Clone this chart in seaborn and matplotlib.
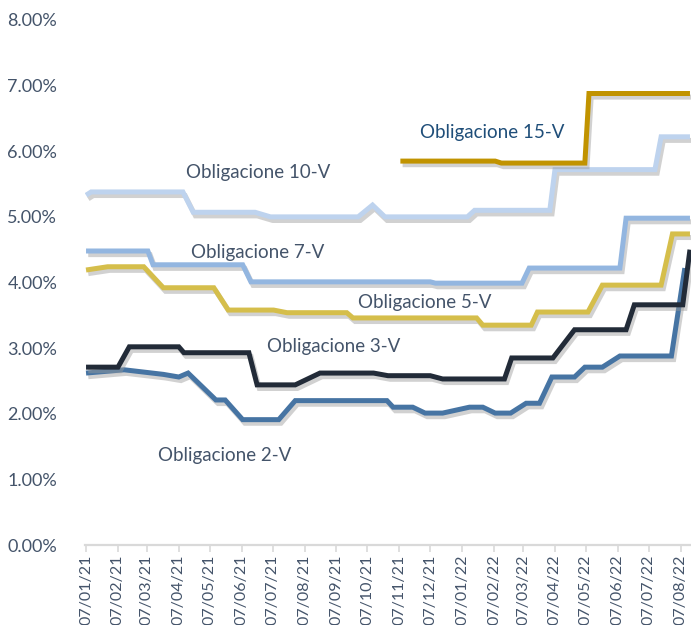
import numpy as np
import pandas as pd
import matplotlib
matplotlib.use("Agg")
import matplotlib.pyplot as plt
import matplotlib.dates as mdates
import matplotlib.patheffects as pe
import seaborn as sns

# ---------------- data ----------------
dates_2v = ['2021-01-07', '2021-02-13', '2021-03-23', '2021-04-07', '2021-04-16', '2021-05-13',
            '2021-05-22', '2021-06-08', '2021-07-13', '2021-07-29', '2021-10-26', '2021-11-01',
            '2021-11-20', '2021-12-02', '2021-12-19', '2022-01-14', '2022-01-27', '2022-02-08',
            '2022-02-23', '2022-03-10', '2022-03-23', '2022-04-04', '2022-04-26', '2022-05-06',
            '2022-05-23', '2022-06-09', '2022-07-29', '2022-08-11']
vals_2v = [2.62, 2.67, 2.60, 2.56, 2.62, 2.21, 2.21, 1.91, 1.91, 2.20, 2.20, 2.10,
           2.10, 2.01, 2.01, 2.10, 2.10, 2.01, 2.01, 2.16, 2.16, 2.56, 2.56, 2.71,
           2.71, 2.88, 2.88, 4.22]

dates_3v = ['2021-01-07', '2021-02-07', '2021-02-18', '2021-04-07', '2021-04-12', '2021-06-14',
            '2021-06-22', '2021-07-29', '2021-08-22', '2021-10-13', '2021-10-27', '2021-12-07',
            '2021-12-19', '2022-02-17', '2022-02-24', '2022-04-05', '2022-04-26', '2022-06-15',
            '2022-06-23', '2022-08-09', '2022-08-16']
vals_3v = [2.71, 2.71, 3.02, 3.02, 2.93, 2.93, 2.44, 2.44, 2.62, 2.62, 2.58, 2.58,
           2.53, 2.53, 2.85, 2.85, 3.28, 3.28, 3.66, 3.66, 4.50]

dates_5v = ['2021-01-07', '2021-01-28', '2021-03-04', '2021-03-23', '2021-05-11', '2021-05-25',
            '2021-07-08', '2021-07-21', '2021-09-17', '2021-09-23', '2022-01-21', '2022-01-27',
            '2022-03-15', '2022-03-21', '2022-05-09', '2022-05-23', '2022-07-19', '2022-07-30',
            '2022-08-16']
vals_5v = [4.19, 4.24, 4.24, 3.92, 3.92, 3.58, 3.58, 3.54, 3.54, 3.46, 3.46, 3.35,
           3.35, 3.55, 3.55, 3.96, 3.96, 4.74, 4.74]

dates_7v = ['2021-01-07', '2021-03-08', '2021-03-13', '2021-06-08', '2021-06-16', '2021-12-07',
            '2021-12-12', '2022-03-06', '2022-03-13', '2022-06-09', '2022-06-15', '2022-08-16']
vals_7v = [4.48, 4.48, 4.27, 4.27, 4.01, 4.01, 3.99, 3.99, 4.22, 4.22, 4.98, 4.98]

dates_10v = ['2021-01-07', '2021-01-12', '2021-04-11', '2021-04-21', '2021-06-20', '2021-07-05',
             '2021-09-28', '2021-10-12', '2021-10-24', '2022-01-12', '2022-01-19', '2022-04-02',
             '2022-04-07', '2022-07-13', '2022-07-19', '2022-08-16']
vals_10v = [5.33, 5.38, 5.38, 5.07, 5.07, 5.00, 5.00, 5.18, 5.00, 5.00, 5.10, 5.10,
            5.72, 5.72, 6.22, 6.22]

dates_15v = ['2021-11-08', '2022-02-08', '2022-02-14', '2022-05-06', '2022-05-10', '2022-08-16']
vals_15v = [5.85, 5.85, 5.82, 5.82, 6.88, 6.88]

series_names = ['Obligacione 2-V', 'Obligacione 3-V', 'Obligacione 5-V',
                'Obligacione 7-V', 'Obligacione 10-V', 'Obligacione 15-V']

tick_dates = ['2021-01-07', '2021-02-07', '2021-03-07', '2021-04-07', '2021-05-07', '2021-06-07',
              '2021-07-07', '2021-08-07', '2021-09-07', '2021-10-07', '2021-11-07', '2021-12-07',
              '2022-01-07', '2022-02-07', '2022-03-07', '2022-04-07', '2022-05-07', '2022-06-07',
              '2022-07-07', '2022-08-07']
tick_labels = ['07/01/21', '07/02/21', '07/03/21', '07/04/21', '07/05/21', '07/06/21',
               '07/07/21', '07/08/21', '07/09/21', '07/10/21', '07/11/21', '07/12/21',
               '07/01/22', '07/02/22', '07/03/22', '07/04/22', '07/05/22', '07/06/22',
               '07/07/22', '07/08/22']
y_ticks = [0, 1, 2, 3, 4, 5, 6, 7, 8]

# ---------------- styling ----------------
colors = {
    'Obligacione 2-V': '#4674A3',
    'Obligacione 3-V': '#222B38',
    'Obligacione 5-V': '#D5BE4B',
    'Obligacione 7-V': '#93B6E0',
    'Obligacione 10-V': '#BED3EE',
    'Obligacione 15-V': '#C19300',
}
label_pos = {
    'Obligacione 15-V': ('2022-02-05', 6.28, '#1F4E79'),
    'Obligacione 10-V': ('2021-06-23', 5.67, '#44546A'),
    'Obligacione 7-V': ('2021-06-23', 4.45, '#44546A'),
    'Obligacione 5-V': ('2021-12-02', 3.69, '#44546A'),
    'Obligacione 3-V': ('2021-09-04', 3.02, '#44546A'),
    'Obligacione 2-V': ('2021-05-22', 1.37, '#44546A'),
}

sns.set_theme(style="white")
plt.rcParams['font.family'] = ['Lato', 'DejaVu Sans']

all_dates = [dates_2v, dates_3v, dates_5v, dates_7v, dates_10v, dates_15v]
all_vals = [vals_2v, vals_3v, vals_5v, vals_7v, vals_10v, vals_15v]
frames = []
for name, d, v in zip(series_names, all_dates, all_vals):
    frames.append(pd.DataFrame({'date': pd.to_datetime(d), 'value': v, 'series': name}))
df = pd.concat(frames, ignore_index=True)

fig = plt.figure(figsize=(6.91, 6.25), dpi=100)
ax = fig.add_axes([85 / 691, 80 / 625, (691 - 85) / 691, (545 - 20) / 625])

sns.lineplot(data=df, x='date', y='value', hue='series', hue_order=series_names,
             palette=colors, linewidth=3.6, sort=False, legend=False, ax=ax,
             estimator=None)

for line in ax.lines:
    line.set_solid_joinstyle('miter')
    line.set_solid_capstyle('butt')
    line.set_path_effects([
        pe.SimpleLineShadow(offset=(1.6, -2.6), shadow_color='#9a9a9a', alpha=0.45),
        pe.Normal(),
    ])

for name, (d, yv, c) in label_pos.items():
    ax.text(pd.Timestamp(d), yv, name, color=c, fontsize=13.5, ha='center', va='center')

ax.set_ylim(0, 8)
ax.set_yticks(y_ticks)
ax.set_yticklabels([f"{t:.2f}%" for t in y_ticks])
ax.set_xlim(pd.Timestamp('2021-01-06'), pd.Timestamp('2022-08-17'))
ax.set_xticks(pd.to_datetime(tick_dates))
ax.set_xticklabels(tick_labels, rotation=90, va='top', ha='center')

ax.set_xlabel('')
ax.set_ylabel('')
for s in ['top', 'right', 'left']:
    ax.spines[s].set_visible(False)
ax.spines['bottom'].set_color('#D9D9D9')
ax.spines['bottom'].set_linewidth(1.6)
ax.tick_params(axis='x', which='both', bottom=True, length=5, width=1.2, color='#D9D9D9',
               labelsize=11.5, labelcolor='#44546A', pad=2)
ax.tick_params(axis='y', left=False, labelsize=13, labelcolor='#44546A', pad=14)
ax.grid(False)

fig.savefig('out.png', dpi=100)
